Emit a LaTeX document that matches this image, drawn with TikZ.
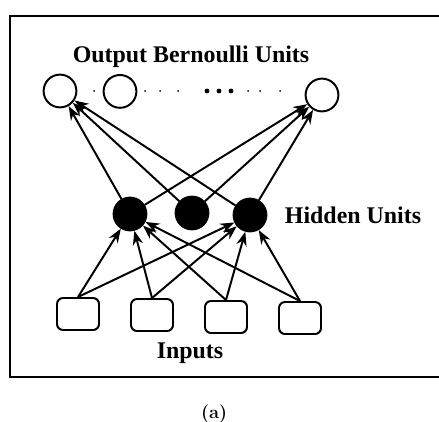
\documentclass[tikz,border=0pt]{standalone}
\usepackage{fontspec}
\newfontfamily\netfont{Liberation Serif}
\usetikzlibrary{arrows.meta}

\begin{document}
\begin{tikzpicture}[
        line width=1.4pt,
        font=\netfont\bfseries\fontsize{17}{20}\selectfont
    ]
    \tikzset{
        outnode/.style = {circle, draw=black, fill=white, minimum size=0.82cm, inner sep=0pt},
        hidnode/.style = {circle, draw=black, fill=black, minimum size=0.82cm, inner sep=0pt},
        innode/.style = {rectangle, rounded corners=0.15cm, draw=black, minimum width=1.05cm, minimum height=0.8cm, inner sep=0pt},
        edgea/.style = {-{Stealth[length=3.5mm,width=2.6mm]}},
        dotb/.style = {fill=black},
    }
    \useasboundingbox (0,0) rectangle (10.975,10.525);
    \draw[line width=1pt] (0.25,1.1) rectangle (11.3,10.125);
    %
    \node[anchor=base] at (4.775,8.975) (tout) {Output Bernoulli Units};
    \node[anchor=base] at (8.825,4.95) (thid) {Hidden Units};
    \node[anchor=base] at (4.75,1.575) (tin) {Inputs};
    \node[anchor=base, font=\rmfamily\bfseries\fontsize{13}{15}\selectfont] at (5.35,0.07) (cap) {(a)};
    %
    \node[outnode] at (1.5,8.25) (o1) {};
    \node[outnode] at (3.0,8.24) (o2) {};
    \node[outnode] at (8.05,8.15) (o3) {};
    %
    \node[hidnode] at (3.25,5.175) (h1) {};
    \node[hidnode] at (4.8,5.2) (h2) {};
    \node[hidnode] at (6.25,5.15) (h3) {};
    %
    \node[innode] at (1.95,2.675) (i1) {};
    \node[innode] at (3.8,2.65) (i2) {};
    \node[innode] at (5.65,2.6) (i3) {};
    \node[innode] at (7.5,2.575) (i4) {};
    %
    \foreach \x in {5.175,5.475,5.775}
        \fill[dotb] (\x,8.25) circle (0.06);
    \foreach \x in {2.35,3.625,4.0,4.45,6.2,6.5,7.0}
        \fill[dotb] (\x,8.25) circle (0.025);
    %
    \foreach \i in {1,2,3,4} {
        \draw[edgea] (i\i.north) -- (h1);
        \draw[edgea] (i\i.north) -- (h3);
    }
    %
    \foreach \j in {1,2,3} {
        \draw[edgea] (h\j) -- (o1);
        \draw[edgea] (h\j) -- (o3);
    }
\end{tikzpicture}
\end{document}
